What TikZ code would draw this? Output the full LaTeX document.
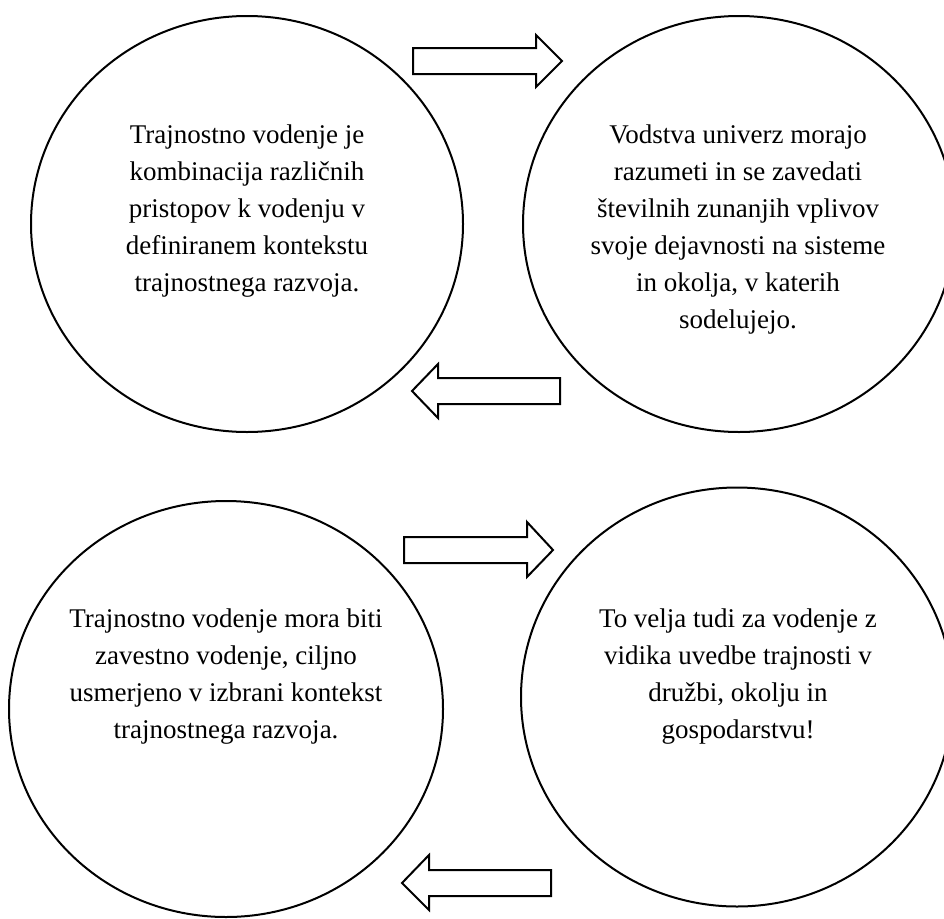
\documentclass[tikz,border=0pt]{standalone}
\usepackage{fontspec}
\setmainfont{Liberation Serif}
\usetikzlibrary{shapes.geometric}
\begin{document}
\begin{tikzpicture}[x=1pt,y=-1pt,
  bubble/.style={draw=black, line width=2pt, ellipse, inner sep=0pt},
  txt/.style={align=center, inner sep=0pt, font=\fontsize{27pt}{37pt}\selectfont},
  blockarrow/.style={draw=black, line width=2pt, fill=white, line join=miter}]
\useasboundingbox (0,0) rectangle (944,918);
\fill[white] (0,0) rectangle (944,918);
% circles
\node[bubble, minimum width=432pt, minimum height=416pt] (c1) at (247,224) {};
\node[bubble, minimum width=432pt, minimum height=416pt] (c2) at (739,224) {};
\node[bubble, minimum width=434pt, minimum height=416pt] (c3) at (226,709) {};
\node[bubble, minimum width=432pt, minimum height=419pt] (c4) at (737,697) {};
% texts
\node[txt] (t1) at (247,211) {Trajnostno vodenje je\\kombinacija različnih\\pristopov k vodenju v\\definiranem kontekstu\\trajnostnega razvoja.};
\node[txt] (t2) at (738,230) {Vodstva univerz morajo\\razumeti in se zavedati\\številnih zunanjih vplivov\\svoje dejavnosti na sisteme\\in okolja, v katerih\\sodelujejo.};
\node[txt] (t3) at (226,677) {Trajnostno vodenje mora biti\\zavestno vodenje, ciljno\\usmerjeno v izbrani kontekst\\trajnostnega razvoja.};
\node[txt] (t4) at (738,677) {To velja tudi za vodenje z\\vidika uvedbe trajnosti v\\družbi, okolju in\\gospodarstvu!};
% block arrows
\draw[blockarrow] (413,48) -- (536,48) -- (536,35) -- (562,61) -- (536,87) -- (536,74) -- (413,74) -- cycle;
\draw[blockarrow] (560,378) -- (438,378) -- (438,364) -- (412,391) -- (438,418) -- (438,404) -- (560,404) -- cycle;
\draw[blockarrow] (404,537) -- (527,537) -- (527,522) -- (553,550) -- (527,577) -- (527,563) -- (404,563) -- cycle;
\draw[blockarrow] (551,870) -- (429,870) -- (429,855) -- (402,883) -- (429,910) -- (429,896) -- (551,896) -- cycle;
\end{tikzpicture}
\end{document}
